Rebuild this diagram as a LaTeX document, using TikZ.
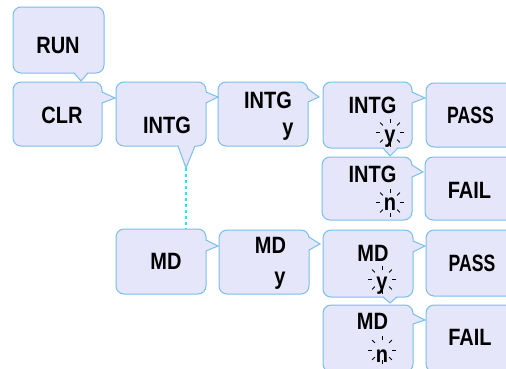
\documentclass[tikz,border=0pt]{standalone}
\usepackage{graphicx}
\usepackage{fontspec}
\setmainfont{Liberation Sans}
\definecolor{boxfill}{RGB}{230,230,250}
\definecolor{boxline}{RGB}{120,190,235}
\definecolor{dashcol}{RGB}{60,215,250}
\newcommand\stx[1]{\scalebox{1}[1.18]{#1}}
\newcommand\stp[1]{\scalebox{0.88}[1.18]{#1}}
% right pointer: edge x, y top, y bottom, tip x, tip y
\newcommand\rptr[5]{%
  \fill[boxfill] (#1-1.5,#2) -- (#4,#5) -- (#1-1.5,#3) -- cycle;
  \draw[ptrline] (#1,#2) -- (#4,#5) -- (#1,#3);}
% bottom pointer: edge y, x left, x right, tip x, tip y
\newcommand\bptr[5]{%
  \fill[boxfill] (#2,#1-1.5) -- (#4,#5) -- (#3,#1-1.5) -- cycle;
  \draw[ptrline] (#2,#1) -- (#4,#5) -- (#3,#1);}
\newcommand\spark[2]{%
  \foreach \a in {0,45,...,315} \draw[tickline] (#1,#2) ++(\a:10) -- ++(\a:4);}
\begin{document}
\begin{tikzpicture}[x=1pt,y=-1pt,
  bx/.style={draw=boxline, fill=boxfill, line width=1pt, rounded corners=8pt, inner sep=0pt},
  ptrline/.style={draw=boxline, line width=1pt},
  txt/.style={anchor=base, inner sep=0pt, font=\fontsize{20}{24}\selectfont\bfseries},
  tickline/.style={line width=0.8pt, black},
  link/.style={draw=dashcol, line width=1.2pt, dash pattern=on 3pt off 3pt}]
\useasboundingbox (0,0) rectangle (506,368);
\clip (0,0) rectangle (506,368);
% boxes
\node[bx, minimum width=91, minimum height=66] (run) at (58.5,40) {};
\node[bx, minimum width=89, minimum height=64] (clr) at (57.5,114) {};
\node[bx, minimum width=90, minimum height=64] (intgA) at (161,114) {};
\node[bx, minimum width=90, minimum height=64] (intgB) at (263,114) {};
\node[bx, minimum width=89, minimum height=66] (intgC) at (367.5,115) {};
\node[bx, minimum width=94, minimum height=64] (passA) at (473,115) {};
\node[bx, minimum width=90, minimum height=63] (intgN) at (367,188.5) {};
\node[bx, minimum width=95, minimum height=63] (failA) at (472.5,188.5) {};
\node[bx, minimum width=90, minimum height=65] (md) at (161,261.5) {};
\node[bx, minimum width=90, minimum height=64] (mdB) at (264,262) {};
\node[bx, minimum width=90, minimum height=67] (mdC) at (368,263.5) {};
\node[bx, minimum width=94, minimum height=66] (passB) at (473,263) {};
\node[bx, minimum width=90, minimum height=67] (mdN) at (368,338.5) {};
\node[bx, minimum width=94, minimum height=67] (failB) at (473,338.5) {};
% pointers
\bptr{73}{74}{88}{81}{81}
\rptr{102}{92}{103}{115}{98}
\rptr{206}{92}{103}{218}{97}
\bptr{146}{178}{195}{186}{168}
\coordinate (intgtip) at (186,168);
\rptr{308}{89}{102}{319}{97}
\rptr{412}{92}{103}{425}{98}
\bptr{148}{383}{398}{390}{156}
\rptr{412}{165}{177}{423}{172}
\rptr{206}{240}{251}{218}{246}
\rptr{309}{237}{250}{320}{244}
\rptr{413}{241}{252}{425}{246}
\bptr{297}{383}{397}{390}{303}
\rptr{413}{314}{324}{425}{320}
% dashed link
\draw[link] (intgtip) -- (intgtip |- md.north);
% texts
\node[txt] (trun) at (58,53) {\stx{RUN}};
\node[txt] (tclr) at (62,123) {\stx{CLR}};
\node[txt] (tintgA) at (167,133) {\stx{INTG}};
\node[txt] (tintgB) at (268,108) {\stx{INTG}};
\node[txt] (tyB) at (288,135.5) {\stx{y}};
\node[txt] (tintgC) at (372.5,113) {\stx{INTG}};
\node[txt] (tyC) at (390,142.5) {\stx{y}};
\node[txt] (tpassA) at (470.5,123) {\stp{PASS}};
\node[txt] (tintgN) at (372.5,182) {\stx{INTG}};
\node[txt] (tnN) at (390,210) {\stx{n}};
\node[txt] (tfailA) at (469.5,198) {\stx{FAIL}};
\node[txt] (tmd) at (166,269) {\stx{MD}};
\node[txt] (tmdB) at (270.5,253) {\stx{MD}};
\node[txt] (tyMB) at (280,284.5) {\stx{y}};
\node[txt] (tmdC) at (373,261) {\stx{MD}};
\node[txt] (tyMC) at (382,289.5) {\stx{y}};
\node[txt] (tpassB) at (472,271) {\stp{PASS}};
\node[txt] (tmdN) at (372.5,329) {\stx{MD}};
\node[txt] (tnMN) at (382,362) {\stx{n}};
\node[txt] (tfailB) at (470,345) {\stx{FAIL}};
% sparkles
\spark{390}{132.5}
\spark{390}{202.5}
\spark{382}{279.5}
\spark{382}{350}
\end{tikzpicture}
\end{document}
